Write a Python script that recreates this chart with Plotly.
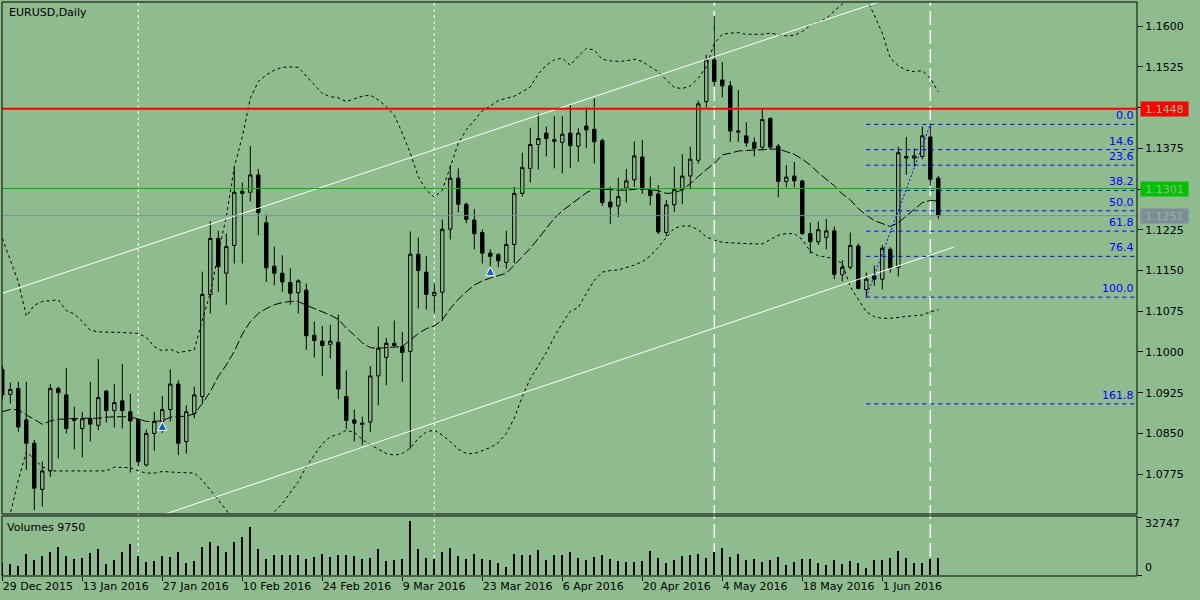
import plotly.graph_objects as go

# ---------------- data ----------------
tick_labels = ["29 Dec 2015", "13 Jan 2016", "27 Jan 2016", "10 Feb 2016", "24 Feb 2016",
               "9 Mar 2016", "23 Mar 2016", "6 Apr 2016", "20 Apr 2016", "4 May 2016",
               "18 May 2016", "1 Jun 2016"]
tick_bars = [0, 10, 20, 30, 40, 50, 60, 70, 80, 90, 100, 110]

opens = [1.0968, 1.0922, 1.0933, 1.0875, 1.0832, 1.0747, 1.0781, 1.0933, 1.0921, 1.0876,
         1.0859, 1.0877, 1.0865, 1.0928, 1.0892, 1.0910, 1.0890, 1.0876, 1.0792, 1.0850,
         1.0872, 1.0894, 1.0941, 1.0835, 1.0887, 1.0918, 1.1106, 1.1209, 1.1145, 1.1196,
         1.1296, 1.1294, 1.1326, 1.1238, 1.1158, 1.1145, 1.1128, 1.1109, 1.1114, 1.1031,
         1.1020, 1.1014, 1.1018, 1.0918, 1.0875, 1.0869, 1.0871, 1.0956, 1.0990, 1.1016,
         1.1010, 1.1001, 1.1180, 1.1147, 1.1104, 1.1110, 1.1226, 1.1320, 1.1272, 1.1243,
         1.1220, 1.1182, 1.1179, 1.1165, 1.1198, 1.1292, 1.1338, 1.1382, 1.1403, 1.1391,
         1.1386, 1.1403, 1.1379, 1.1416, 1.1410, 1.1389, 1.1276, 1.1269, 1.1302, 1.1317,
         1.1359, 1.1298, 1.1291, 1.1220, 1.1271, 1.1299, 1.1324, 1.1353, 1.1461, 1.1538,
         1.1501, 1.1490, 1.1407, 1.1398, 1.1386, 1.1377, 1.1430, 1.1379, 1.1314, 1.1324,
         1.1315, 1.1218, 1.1203, 1.1211, 1.1223, 1.1142, 1.1156, 1.1195, 1.1115, 1.1140,
         1.1134, 1.1189, 1.1156, 1.1360, 1.1357, 1.1360, 1.1396, 1.1320]
highs = [1.0975, 1.0944, 1.0945, 1.0945, 1.0838, 1.0798, 1.0941, 1.0936, 1.0970, 1.0899,
         1.0890, 1.0945, 1.0987, 1.0930, 1.0941, 1.0978, 1.0923, 1.0878, 1.0857, 1.0890,
         1.0919, 1.0968, 1.0948, 1.0902, 1.0936, 1.1148, 1.1241, 1.1223, 1.1218, 1.1340,
         1.1312, 1.1379, 1.1337, 1.1253, 1.1194, 1.1178, 1.1154, 1.1134, 1.1126, 1.1056,
         1.1048, 1.1050, 1.1069, 1.0966, 1.0894, 1.0881, 1.0974, 1.1047, 1.1026, 1.1058,
         1.1037, 1.1222, 1.1211, 1.1177, 1.1126, 1.1244, 1.1344, 1.1338, 1.1275, 1.1263,
         1.1226, 1.1189, 1.1182, 1.1223, 1.1304, 1.1367, 1.1413, 1.1439, 1.1415, 1.1434,
         1.1434, 1.1455, 1.1412, 1.1450, 1.1467, 1.1393, 1.1304, 1.1321, 1.1337, 1.1388,
         1.1390, 1.1323, 1.1307, 1.1280, 1.1341, 1.1364, 1.1378, 1.1463, 1.1547, 1.1619,
         1.1534, 1.1499, 1.1482, 1.1423, 1.1395, 1.1449, 1.1432, 1.1383, 1.1344, 1.1350,
         1.1317, 1.1238, 1.1240, 1.1245, 1.1231, 1.1169, 1.1220, 1.1200, 1.1146, 1.1159,
         1.1197, 1.1193, 1.1378, 1.1396, 1.1375, 1.1415, 1.1420, 1.1324]
lows = [1.0912, 1.0905, 1.0853, 1.0783, 1.0709, 1.0715, 1.0770, 1.0804, 1.0850, 1.0821,
        1.0806, 1.0835, 1.0856, 1.0870, 1.0861, 1.0859, 1.0778, 1.0789, 1.0789, 1.0818,
        1.0851, 1.0872, 1.0810, 1.0813, 1.0878, 1.0905, 1.1071, 1.1111, 1.1087, 1.1163,
        1.1163, 1.1277, 1.1215, 1.1129, 1.1123, 1.1111, 1.1087, 1.1071, 1.1004, 1.0990,
        1.0956, 1.0988, 1.0913, 1.0858, 1.0835, 1.0829, 1.0853, 1.0902, 1.0939, 1.1010,
        1.0945, 1.0822, 1.1080, 1.1078, 1.1072, 1.1057, 1.1207, 1.1257, 1.1237, 1.1189,
        1.1163, 1.1145, 1.1156, 1.1153, 1.1164, 1.1286, 1.1312, 1.1336, 1.1360, 1.1338,
        1.1329, 1.1339, 1.1350, 1.1375, 1.1347, 1.1269, 1.1236, 1.1248, 1.1275, 1.1304,
        1.1291, 1.1270, 1.1217, 1.1213, 1.1258, 1.1272, 1.1299, 1.1347, 1.1450, 1.1490,
        1.1469, 1.1387, 1.1387, 1.1378, 1.1360, 1.1371, 1.1374, 1.1285, 1.1303, 1.1303,
        1.1215, 1.1181, 1.1197, 1.1189, 1.1134, 1.1130, 1.1152, 1.1115, 1.1100, 1.1122,
        1.1115, 1.1146, 1.1139, 1.1326, 1.1341, 1.1355, 1.1306, 1.1245]
closes = [1.0921, 1.0931, 1.0862, 1.0832, 1.0749, 1.0781, 1.0933, 1.0925, 1.0859, 1.0874,
          1.0877, 1.0867, 1.0916, 1.0892, 1.0907, 1.0892, 1.0873, 1.0798, 1.0850, 1.0872,
          1.0894, 1.0941, 1.0832, 1.0890, 1.0921, 1.1106, 1.1209, 1.1157, 1.1194, 1.1294,
          1.1292, 1.1326, 1.1257, 1.1155, 1.1145, 1.1129, 1.1108, 1.1131, 1.1030, 1.1021,
          1.1012, 1.1020, 1.0932, 1.0874, 1.0869, 1.0867, 1.0956, 1.1007, 1.1016, 1.1012,
          1.0999, 1.1180, 1.1150, 1.1106, 1.1110, 1.1226, 1.1320, 1.1272, 1.1244, 1.1218,
          1.1182, 1.1176, 1.1168, 1.1198, 1.1292, 1.1340, 1.1382, 1.1393, 1.1393, 1.1388,
          1.1401, 1.1380, 1.1403, 1.1409, 1.1387, 1.1275, 1.1267, 1.1286, 1.1315, 1.1361,
          1.1299, 1.1288, 1.1221, 1.1271, 1.1299, 1.1324, 1.1355, 1.1457, 1.1538, 1.1498,
          1.1490, 1.1407, 1.1405, 1.1385, 1.1375, 1.1428, 1.1377, 1.1314, 1.1322, 1.1315,
          1.1218, 1.1203, 1.1225, 1.1223, 1.1143, 1.1156, 1.1196, 1.1117, 1.1134, 1.1134,
          1.1191, 1.1154, 1.1367, 1.1357, 1.1361, 1.1398, 1.1318, 1.1251]
volumes = [7000, 6400, 5270, 12045, 8660, 10915, 13360, 16000, 10915, 9220,
           9790, 12610, 14680, 6400, 8660, 13170, 17690, 10915, 7530, 8090,
           10915, 10350, 13170, 6960, 8090, 16000, 18820, 16560, 13170, 18820,
           21640, 27290, 14870, 9220, 11480, 11480, 11480, 11480, 9220, 10350,
           12045, 10350, 11480, 11480, 10915, 9220, 9790, 14870, 8090, 8660,
           9220, 30680, 14870, 9790, 9220, 13170, 15430, 10915, 9220, 12045,
           9220, 8660, 6960, 4700, 12045, 11480, 11480, 14300, 8660, 11480,
           11480, 13170, 9790, 8660, 10350, 11480, 9220, 8090, 7530, 7530,
           8090, 13740, 9790, 6960, 8660, 10915, 11480, 12045, 9790, 13170,
           15430, 10350, 12045, 8660, 9220, 7530, 8660, 10350, 5830, 7530,
           9220, 9220, 6960, 5830, 8660, 6400, 8090, 6960, 4140, 8660,
           8660, 9790, 13740, 9790, 6960, 6960, 9220, 9750]

bb_upper = [1.1209, 1.1169, 1.1129, 1.1066, 1.1086, 1.1093, 1.1094, 1.1096, 1.1076, 1.1070,
            1.1056, 1.1040, 1.1037, 1.1037, 1.1036, 1.1036, 1.1035, 1.1034, 1.1027, 1.1010,
            1.1002, 1.1005, 1.0999, 1.1001, 1.1004, 1.1059, 1.1108, 1.1182, 1.1249, 1.1341,
            1.1396, 1.1467, 1.1498, 1.1510, 1.1519, 1.1524, 1.1525, 1.1524, 1.1507, 1.1492,
            1.1476, 1.1470, 1.1468, 1.1461, 1.1466, 1.1471, 1.1473, 1.1464, 1.1452, 1.1436,
            1.1403, 1.1366, 1.1323, 1.1298, 1.1285, 1.1298, 1.1341, 1.1384, 1.1409, 1.1427,
            1.1444, 1.1453, 1.1463, 1.1467, 1.1471, 1.1479, 1.1488, 1.1512, 1.1528, 1.1538,
            1.1541, 1.1528, 1.1545, 1.1559, 1.1556, 1.1539, 1.1536, 1.1535, 1.1536, 1.1539,
            1.1535, 1.1525, 1.1516, 1.1501, 1.1487, 1.1485, 1.1490, 1.1504, 1.1525, 1.1568,
            1.1585, 1.1587, 1.1588, 1.1585, 1.1585, 1.1585, 1.1587, 1.1584, 1.1582, 1.1583,
            1.1590, 1.1602, 1.1608, 1.1614, 1.1628, 1.1641, 1.1654, 1.1657, 1.1651, 1.1620,
            1.1587, 1.1541, 1.1527, 1.1519, 1.1516, 1.1518, 1.1504, 1.1479]
bb_middle = [1.0890, 1.0894, 1.0894, 1.0884, 1.0876, 1.0867, 1.0873, 1.0876, 1.0877, 1.0878,
             1.0878, 1.0878, 1.0878, 1.0880, 1.0881, 1.0881, 1.0880, 1.0877, 1.0872, 1.0872,
             1.0873, 1.0880, 1.0881, 1.0882, 1.0886, 1.0905, 1.0927, 1.0955, 1.0976, 1.1001,
             1.1033, 1.1056, 1.1071, 1.1080, 1.1087, 1.1091, 1.1093, 1.1093, 1.1086, 1.1080,
             1.1074, 1.1068, 1.1060, 1.1044, 1.1031, 1.1017, 1.1008, 1.1007, 1.1008, 1.1009,
             1.1010, 1.1022, 1.1034, 1.1043, 1.1048, 1.1059, 1.1080, 1.1097, 1.1111, 1.1123,
             1.1131, 1.1136, 1.1140, 1.1145, 1.1160, 1.1175, 1.1191, 1.1209, 1.1227, 1.1246,
             1.1260, 1.1271, 1.1282, 1.1293, 1.1301, 1.1300, 1.1298, 1.1298, 1.1298, 1.1300,
             1.1301, 1.1299, 1.1297, 1.1292, 1.1293, 1.1299, 1.1310, 1.1323, 1.1336, 1.1347,
             1.1363, 1.1366, 1.1370, 1.1371, 1.1372, 1.1372, 1.1374, 1.1374, 1.1369, 1.1364,
             1.1355, 1.1344, 1.1330, 1.1318, 1.1306, 1.1291, 1.1280, 1.1264, 1.1252, 1.1242,
             1.1236, 1.1231, 1.1238, 1.1250, 1.1263, 1.1275, 1.1279, 1.1278]
bb_lower = [1.0641, 1.0703, 1.0764, 1.0816, 1.0802, 1.0789, 1.0781, 1.0781, 1.0781, 1.0781,
            1.0780, 1.0780, 1.0780, 1.0781, 1.0788, 1.0788, 1.0787, 1.0781, 1.0777, 1.0777,
            1.0780, 1.0779, 1.0778, 1.0778, 1.0777, 1.0764, 1.0746, 1.0727, 1.0709, 1.0688,
            1.0669, 1.0660, 1.0666, 1.0684, 1.0706, 1.0721, 1.0740, 1.0761, 1.0789, 1.0810,
            1.0831, 1.0844, 1.0848, 1.0856, 1.0852, 1.0839, 1.0829, 1.0821, 1.0813, 1.0810,
            1.0813, 1.0823, 1.0841, 1.0853, 1.0856, 1.0847, 1.0835, 1.0821, 1.0813, 1.0813,
            1.0818, 1.0824, 1.0833, 1.0850, 1.0878, 1.0918, 1.0951, 1.0974, 1.0999, 1.1028,
            1.1053, 1.1075, 1.1082, 1.1108, 1.1132, 1.1147, 1.1150, 1.1151, 1.1155, 1.1160,
            1.1166, 1.1177, 1.1193, 1.1211, 1.1228, 1.1232, 1.1232, 1.1225, 1.1212, 1.1206,
            1.1202, 1.1201, 1.1200, 1.1199, 1.1199, 1.1199, 1.1207, 1.1215, 1.1218, 1.1218,
            1.1207, 1.1185, 1.1177, 1.1175, 1.1171, 1.1163, 1.1120, 1.1096, 1.1074, 1.1065,
            1.1062, 1.1062, 1.1064, 1.1066, 1.1067, 1.1068, 1.1074, 1.1078]

price_ticks = [1.0775, 1.0850, 1.0925, 1.1000, 1.1075, 1.1150, 1.1225, 1.1300, 1.1375,
               1.1450, 1.1525, 1.1600]
volume_ticks = [0, 32747]

# drawing objects
channel_upper_bars = [0, 118.9]
channel_upper_prices = [1.1108, 1.1690]
channel_lower_bars = [0, 118.9]
channel_lower_prices = [1.0600, 1.1193]
red_level = 1.1448
green_level = 1.1301
fib_start_bar, fib_end_bar = 108, 116
fib_low, fib_high = 1.1101, 1.1419
fib_ratios = [0.0, 14.6, 23.6, 38.2, 50.0, 61.8, 76.4, 100.0, 161.8]
dotted_vline_bars = [17, 54]
dashed_vline_bars = [89, 116]
arrow_bars = [20, 61]
arrow_prices = [1.0872, 1.1157]

# ---------------- styling / layout ----------------
W, H = 1200, 600
BG = "#8FBC8F"
FONT = "DejaVu Sans"
bar_px, first_bar_px = 8.0, 2.3
PL, PR, PT, PB = 2, 1137, 2, 514          # main panel (px)
VT, VB = 516, 576                          # volume panel (px)


def fx(px):
    return px / W


def fy(py):
    return 1 - py / H


x_range = [(PL - first_bar_px) / bar_px, (PR - first_bar_px) / bar_px]
y_range = [1.07017, 1.16444]
vol_per_px = 32747 / 58.0
v_range = [-(576 - 575.3) * vol_per_px, 32747 + (517.3 - 516) * vol_per_px]

idx = list(range(len(closes)))
bid = closes[-1]

fig = go.Figure()

band_style = dict(color="black", width=1)
fig.add_trace(go.Scatter(x=idx, y=bb_upper, mode="lines",
                         line=dict(**band_style, dash="3px,3px"), hoverinfo="skip"))
fig.add_trace(go.Scatter(x=idx, y=bb_lower, mode="lines",
                         line=dict(**band_style, dash="3px,3px"), hoverinfo="skip"))
fig.add_trace(go.Scatter(x=idx, y=bb_middle, mode="lines",
                         line=dict(**band_style, dash="9px,3px"), hoverinfo="skip"))

# trend channel
fig.add_trace(go.Scatter(x=channel_upper_bars, y=channel_upper_prices, mode="lines",
                         line=dict(color="white", width=1), hoverinfo="skip"))
fig.add_trace(go.Scatter(x=channel_lower_bars, y=channel_lower_prices, mode="lines",
                         line=dict(color="white", width=1), hoverinfo="skip"))

# candles
fig.add_trace(go.Candlestick(
    x=idx, open=opens, high=highs, low=lows, close=closes,
    increasing=dict(line=dict(color="black", width=1), fillcolor=BG),
    decreasing=dict(line=dict(color="black", width=1), fillcolor="black"),
    whiskerwidth=0, xaxis="x", yaxis="y"))

# fibonacci diagonal
fig.add_trace(go.Scatter(x=[fib_start_bar, fib_end_bar], y=[fib_low, fib_high], mode="lines",
                         line=dict(color="#0000ff", width=1, dash="2px,2px"), hoverinfo="skip"))

# trade arrows
fig.add_trace(go.Scatter(x=arrow_bars, y=arrow_prices, mode="markers",
                         marker=dict(symbol="arrow-up", size=9, color="#1560bd",
                                     line=dict(color="white", width=1)), hoverinfo="skip"))

# volumes
fig.add_trace(go.Bar(x=idx, y=volumes, width=0.16, marker=dict(color="black", line=dict(width=0)),
                     xaxis="x2", yaxis="y2", hoverinfo="skip"))

shapes = []
# vertical lines (drawn behind the price bars, as in the terminal)
for b in dotted_vline_bars:
    shapes.append(dict(type="line", xref="x", yref="paper", x0=b, x1=b, y0=fy(VB), y1=fy(PT),
                       layer="below", line=dict(color="white", width=1, dash="3px,3px")))
for b in dashed_vline_bars:
    shapes.append(dict(type="line", xref="x", yref="paper", x0=b, x1=b, y0=fy(VB), y1=fy(PT),
                       layer="below", line=dict(color="white", width=1.5, dash="14px,5px")))
# horizontal levels
for lvl, col, wdt in [(red_level, "#ff0000", 2), (green_level, "#00b400", 1), (bid, "#7f8c9c", 1)]:
    shapes.append(dict(type="line", xref="paper", yref="y", x0=fx(PL), x1=fx(PR), y0=lvl, y1=lvl,
                       line=dict(color=col, width=wdt)))
# fibonacci levels
fib_prices = [fib_high - r / 100.0 * (fib_high - fib_low) for r in fib_ratios]
for p in fib_prices:
    shapes.append(dict(type="line", xref="x", yref="y", x0=fib_start_bar, x1=x_range[1], y0=p, y1=p,
                       line=dict(color="#0000ff", width=1, dash="4px,4px")))
# panel frames
shapes.append(dict(type="rect", xref="paper", yref="paper", x0=fx(PL), x1=fx(PR), y0=fy(PB), y1=fy(PT),
                   line=dict(color="black", width=1)))
shapes.append(dict(type="rect", xref="paper", yref="paper", x0=fx(PL), x1=fx(PR), y0=fy(VB), y1=fy(VT),
                   line=dict(color="black", width=1)))

annotations = []
annotations.append(dict(text="EURUSD,Daily", x=fx(7), y=fy(12), xref="paper", yref="paper",
                        xanchor="left", yanchor="middle", showarrow=False,
                        font=dict(family=FONT, size=11, color="black")))
annotations.append(dict(text=f"Volumes {volumes[-1]}", x=fx(5), y=fy(527), xref="paper", yref="paper",
                        xanchor="left", yanchor="middle", showarrow=False,
                        font=dict(family=FONT, size=11, color="black")))
for r, p in zip(fib_ratios, fib_prices):
    annotations.append(dict(text=f"{r:.1f}", x=fx(1136), y=p, xref="paper", yref="y",
                            xanchor="right", yanchor="bottom", showarrow=False, yshift=0,
                            font=dict(family=FONT, size=11, color="#0000ff")))
for lvl, col in [(red_level, "#ff0000"), (green_level, "#00c000"), (bid, "#7f8c9c")]:
    annotations.append(dict(text=f"{lvl:.4f}", x=fx(1140), y=lvl, xref="paper", yref="y",
                            xanchor="left", yanchor="middle", showarrow=False,
                            width=47, height=14, borderpad=0, bgcolor=col, align="center",
                            font=dict(family=FONT, size=11, color=BG)))
annotations.append(dict(text=str(volume_ticks[1]), x=fx(1143), y=volume_ticks[1], xref="paper", yref="y2",
                        xanchor="left", yanchor="top", showarrow=False, yshift=2,
                        font=dict(family=FONT, size=11, color="black")))
annotations.append(dict(text=str(volume_ticks[0]), x=fx(1143), y=volume_ticks[0], xref="paper", yref="y2",
                        xanchor="left", yanchor="bottom", showarrow=False, yshift=-1,
                        font=dict(family=FONT, size=11, color="black")))

fig.update_layout(
    width=W, height=H, margin=dict(l=0, r=0, t=0, b=0),
    paper_bgcolor=BG, plot_bgcolor=BG, showlegend=False,
    font=dict(family=FONT, size=11, color="black"),
    boxgap=0.4, bargap=0,
    xaxis=dict(domain=[fx(PL), fx(PR)], range=x_range, anchor="y", showgrid=False, zeroline=False,
               showticklabels=False, ticks="", rangeslider=dict(visible=False), fixedrange=True),
    yaxis=dict(domain=[fy(PB), fy(PT)], range=y_range, anchor="x", side="right", showgrid=False,
               zeroline=False, tickvals=price_ticks, ticktext=[f"{v:.4f}" for v in price_ticks],
               ticks="outside", ticklen=5, tickcolor="black", showline=False),
    xaxis2=dict(domain=[fx(PL), fx(PR)], range=x_range, anchor="y2", matches="x", showgrid=False,
                zeroline=False, tickvals=tick_bars, ticktext=tick_labels, ticks="outside", ticklen=4,
                tickcolor="black", ticklabelposition="outside right", showline=False),
    yaxis2=dict(domain=[fy(VB), fy(VT)], range=v_range, anchor="x2", side="right", showgrid=False,
                zeroline=False, tickvals=volume_ticks, showticklabels=False, ticks="outside",
                ticklen=4, tickcolor="black"),
    shapes=shapes, annotations=annotations,
)

fig.write_html("out.html", config={"displayModeBar": False},
               post_script="document.body.style.margin='0px';document.body.style.overflow='hidden';")
